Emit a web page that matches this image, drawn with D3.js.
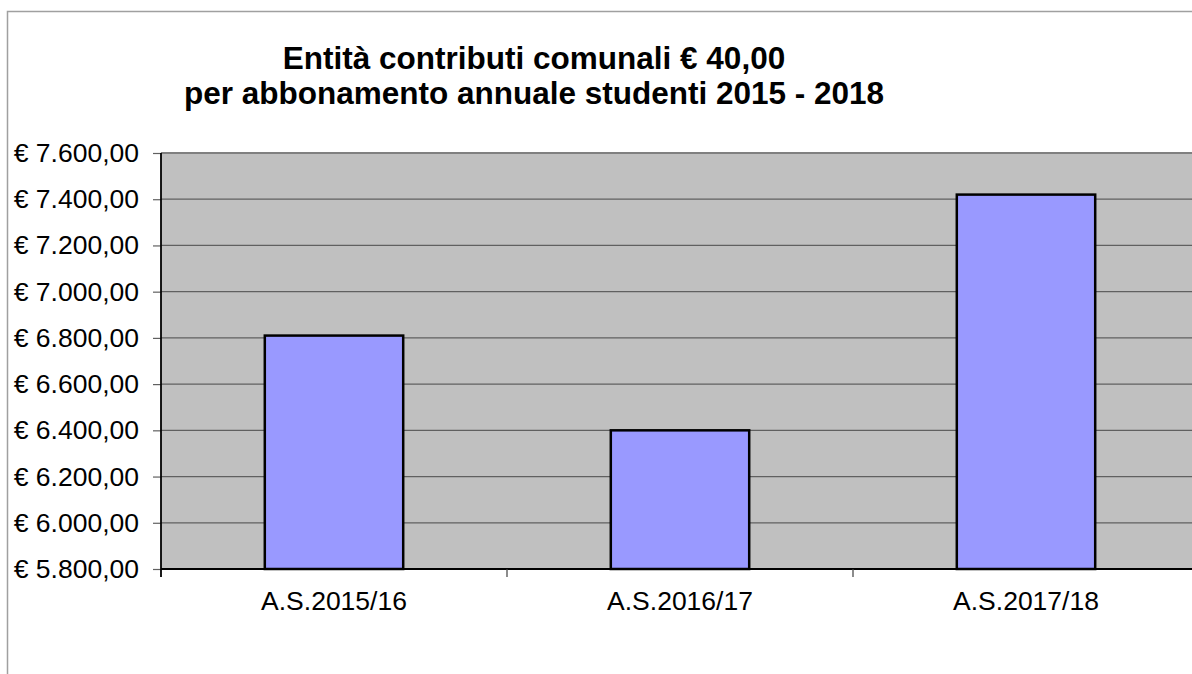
<!DOCTYPE html>
<meta charset="utf-8">
<html>
<script src="https://d3js.org/d3.v7.min.js"></script>
<style>
  body { margin: 0; background: #fff; }
  text { font-family: "Liberation Sans", Arial, sans-serif; }
</style>
<body>
<div id="my_dataviz"></div>
<script>
    // data
    const categories = ["A.S.2015/16", "A.S.2016/17", "A.S.2017/18"];
    const amounts = [6810, 6400, 7420];
    const yTicks = [5800, 6000, 6200, 6400, 6600, 6800, 7000, 7200, 7400, 7600];
    const titleLines = ["Entità contributi comunali € 40,00", "per abbonamento annuale studenti 2015 - 2018"];

    const width = 1192, height = 674;
    const plot = {left: 161, right: 1199, top: 153, bottom: 569};

    const svg = d3.select("#my_dataviz")
      .append("svg")
        .attr("width", width)
        .attr("height", height);

    // outer chart border (runs off the right / bottom)
    svg.append("rect")
      .attr("x", 7.5).attr("y", 11.5)
      .attr("width", 1300).attr("height", 800)
      .attr("fill", "none")
      .attr("stroke", "#a0a0a0")
      .attr("stroke-width", 1.5);

    // italian money format: € 7.600,00
    const it = d3.formatLocale({decimal: ",", thousands: ".", grouping: [3], currency: ["€ ", ""]});
    const money = it.format("$,.2f");

    const x = d3.scaleBand()
      .domain(categories)
      .range([plot.left, plot.right])
      .paddingInner(0.6)
      .paddingOuter(0.3);

    // plain band scale for the category ticks
    const xCat = d3.scaleBand().domain(categories).range([plot.left, plot.right]);

    const y = d3.scaleLinear()
      .domain([5800, 7600])
      .range([plot.bottom, plot.top]);

    // plot background
    svg.append("rect")
      .attr("x", plot.left).attr("y", plot.top)
      .attr("width", plot.right - plot.left)
      .attr("height", plot.bottom - plot.top)
      .attr("fill", "#c0c0c0");

    // gridlines
    svg.append("g")
      .selectAll("line")
      .data(yTicks.slice(1, -1))
      .join("line")
        .attr("x1", plot.left).attr("x2", plot.right)
        .attr("y1", d => y(d)).attr("y2", d => y(d))
        .attr("stroke", "#606060")
        .attr("stroke-width", 1.2);

    // top edge of the plot area
    svg.append("line")
      .attr("x1", plot.left).attr("x2", plot.right)
      .attr("y1", plot.top).attr("y2", plot.top)
      .attr("stroke", "#808080")
      .attr("stroke-width", 2);

    // y axis
    const yAxis = svg.append("g")
      .attr("transform", `translate(${plot.left},0)`)
      .call(d3.axisLeft(y).tickValues(yTicks).tickFormat(money).tickSize(8).tickPadding(0));
    yAxis.select(".domain").remove();
    yAxis.selectAll(".tick line").attr("stroke", "#606060").attr("stroke-width", 1.2);
    yAxis.selectAll(".tick text")
      .attr("x", 139 - plot.left)
      .attr("text-anchor", "end")
      .attr("fill", "#000")
      .style("font-size", "26.5px");

    // bars
    svg.append("g")
      .selectAll("rect")
      .data(amounts)
      .join("rect")
        .attr("x", (d, i) => x(categories[i]))
        .attr("y", d => y(d))
        .attr("width", x.bandwidth())
        .attr("height", d => y(5800) - y(d))
        .attr("fill", "#9999ff")
        .attr("stroke", "#000")
        .attr("stroke-width", 2.5);

    // left axis line
    svg.append("line")
      .attr("x1", plot.left).attr("x2", plot.left)
      .attr("y1", plot.top).attr("y2", plot.bottom + 8)
      .attr("stroke", "#000")
      .attr("stroke-width", 1.8);

    // bottom axis line
    svg.append("line")
      .attr("x1", plot.left).attr("x2", plot.right)
      .attr("y1", plot.bottom).attr("y2", plot.bottom)
      .attr("stroke", "#000")
      .attr("stroke-width", 2);

    // category separator ticks
    svg.append("g")
      .selectAll("line")
      .data(categories.slice(1))
      .join("line")
        .attr("x1", d => xCat(d)).attr("x2", d => xCat(d))
        .attr("y1", plot.bottom).attr("y2", plot.bottom + 8)
        .attr("stroke", "#404040")
        .attr("stroke-width", 1.2);

    // category labels
    svg.append("g")
      .selectAll("text")
      .data(categories)
      .join("text")
        .attr("x", d => xCat(d) + xCat.bandwidth() / 2)
        .attr("y", 610)
        .attr("text-anchor", "middle")
        .style("font-size", "26.5px")
        .text(d => d);

    // title
    svg.append("g")
      .selectAll("text")
      .data(titleLines)
      .join("text")
        .attr("x", 534)
        .attr("y", (d, i) => 69 + i * 35)
        .attr("text-anchor", "middle")
        .style("font-size", "31.5px")
        .style("font-weight", "bold")
        .text(d => d);
</script>
</body>
</html>
